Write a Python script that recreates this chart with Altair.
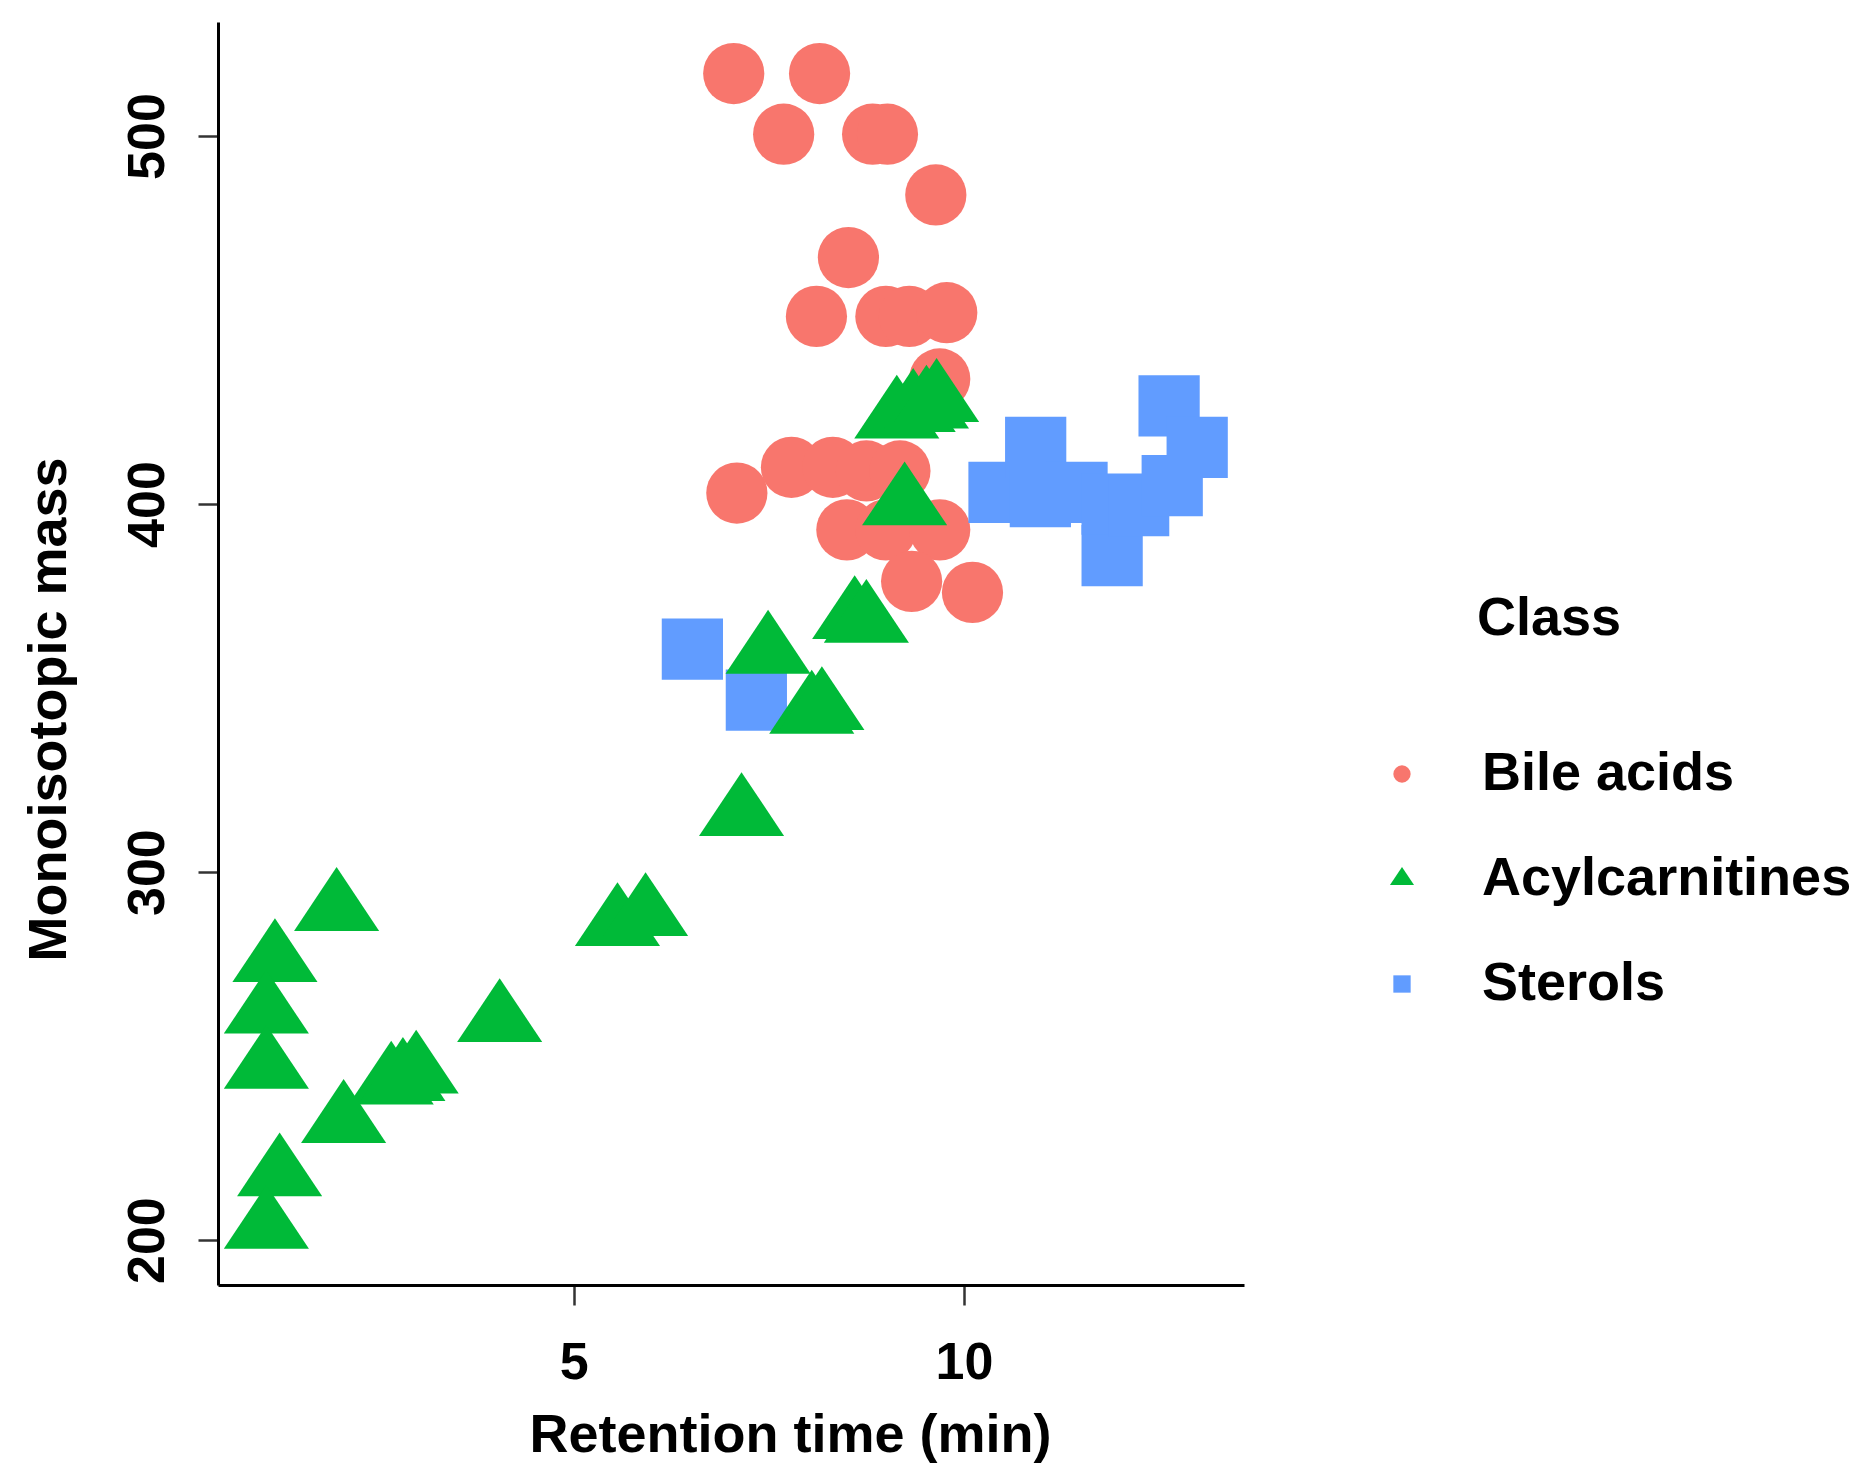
import altair as alt
import pandas as pd

# ---- data ----
classes = ["Bile acids", "Acylcarnitines", "Sterols"]

bile_rt = [7.05, 8.15, 7.69, 8.83, 9.02, 9.64, 8.52, 8.11, 9.00, 9.30, 9.78, 9.69,
           7.09, 7.79, 8.32, 8.75, 9.18, 8.50, 9.00, 9.69, 9.33, 10.11]
bile_mass = [517, 517, 500.5, 500.5, 500.5, 484, 467, 451, 451, 451, 452, 434,
             403, 410, 410, 409, 409, 393, 393, 393, 379, 376]

acyl_rt = [1.96, 1.17, 1.06, 1.06, 4.05, 2.66, 2.81, 2.98, 2.05, 1.23, 1.06,
           5.56, 5.92, 7.15, 7.49, 8.05, 8.18, 8.60, 8.75, 9.14, 9.35, 9.52, 9.65, 9.24]
acyl_mass = [289.8, 275.9, 261.9, 246.9, 259.6, 242.6, 243.6, 245.6, 232.2, 217.7, 203.4,
             285.7, 288.4, 315.6, 359.7, 343.4, 344.4, 369.1, 368.1, 423.6, 425.4, 426.3, 428.1, 400.0]

sterol_rt = [6.52, 7.34, 10.45, 10.92, 10.98, 11.45, 11.90, 11.90, 12.24, 12.63, 12.99, 12.67]
sterol_mass = [360.6, 346.7, 403.2, 415.4, 402, 403.2, 386, 400, 399.6, 426.7, 415.4, 405]

x_ticks = [5, 10]
y_ticks = [200, 300, 400, 500]
legend_title = ["Class"]

colors = ["#F8766D", "#00BA38", "#619CFF"]
# filled triangle centred on its centroid (as R's pch 17), a bit larger than the circle
shapes = ["circle", "M0,-1.39L1.39,0.695L-1.39,0.695Z", "square"]

rows = []
for rt, m in zip(bile_rt, bile_mass):
    rows.append({"rt": rt, "mass": m, "Class": classes[0]})
for rt, m in zip(sterol_rt, sterol_mass):
    rows.append({"rt": rt, "mass": m, "Class": classes[2]})
for rt, m in zip(acyl_rt, acyl_mass):
    rows.append({"rt": rt, "mass": m, "Class": classes[1]})
df = pd.DataFrame(rows)
legend_df = pd.DataFrame({"Class": classes})

FONT = "Liberation Sans"

x_enc = alt.X("rt:Q", scale=alt.Scale(domain=[0.44, 13.59], nice=False, zero=False),
              axis=alt.Axis(title="Retention time (min)", values=x_ticks, grid=False,
                            domainColor="black", domainWidth=3, tickColor="#333333",
                            tickWidth=2.5, tickSize=20, labelFontSize=52, labelFont=FONT,
                            labelFontWeight="bold", labelColor="black", labelPadding=73,
                            labelBaseline="alphabetic",
                            titleFontSize=54, titleFont=FONT, titleFontWeight="bold",
                            titleColor="black", titleX=572, titleY=166,
                            titleAlign="center", titleBaseline="alphabetic"))
y_enc = alt.Y("mass:Q", scale=alt.Scale(domain=[187.8, 531], nice=False, zero=False),
              axis=alt.Axis(title="Monoisotopic mass", values=y_ticks, grid=False,
                            domainColor="black", domainWidth=3, tickColor="#333333",
                            tickWidth=2.5, tickSize=20, labelFontSize=52, labelFont=FONT,
                            labelFontWeight="bold", labelColor="black", labelAngle=270,
                            labelAlign="center", labelBaseline="alphabetic", labelPadding=35,
                            titleFontSize=54, titleFont=FONT, titleFontWeight="bold",
                            titleColor="black", titleAngle=270, titleX=-153, titleY=687,
                            titleAlign="center", titleBaseline="alphabetic"))
color_scale = alt.Scale(domain=classes, range=colors)
shape_scale = alt.Scale(domain=classes, range=shapes)

points = alt.Chart(df).mark_point(filled=True, opacity=1, strokeWidth=0, size=3750).encode(
    x=x_enc, y=y_enc,
    color=alt.Color("Class:N", scale=color_scale, legend=None),
    shape=alt.Shape("Class:N", scale=shape_scale, legend=None),
)

# legend (keys + labels), laid out by a point scale on the class names
legend_y = alt.Y("Class:N", scale=alt.Scale(domain=classes, range=[752, 962], padding=0),
                 axis=None)
legend_keys = alt.Chart(legend_df).mark_point(
    filled=True, opacity=1, strokeWidth=0, size=300
).encode(
    x=alt.value(1184), y=legend_y,
    color=alt.Color("Class:N", scale=color_scale, legend=None),
    shape=alt.Shape("Class:N", scale=shape_scale, legend=None),
)
legend_labels = alt.Chart(legend_df).mark_text(
    font=FONT, fontSize=54, fontWeight="bold", color="black",
    align="left", baseline="middle"
).encode(x=alt.value(1264), y=legend_y, text="Class:N")

title_text = alt.Chart(pd.DataFrame({"t": legend_title})).mark_text(
    font=FONT, fontSize=54, fontWeight="bold", color="black",
    align="left", baseline="alphabetic"
).encode(text="t:N", x=alt.value(1259), y=alt.value(613))

chart = alt.layer(points, legend_keys, legend_labels, title_text).resolve_scale(
    y="independent"
).properties(
    width=1026, height=1263,
    background="white",
    autosize=alt.AutoSizeParams(type="none"),
    padding={"left": 210, "top": 14, "right": 620, "bottom": 190},
).configure_view(strokeWidth=0, stroke="transparent")

chart.save("out.html", embed_options={"renderer": "svg", "actions": False})
